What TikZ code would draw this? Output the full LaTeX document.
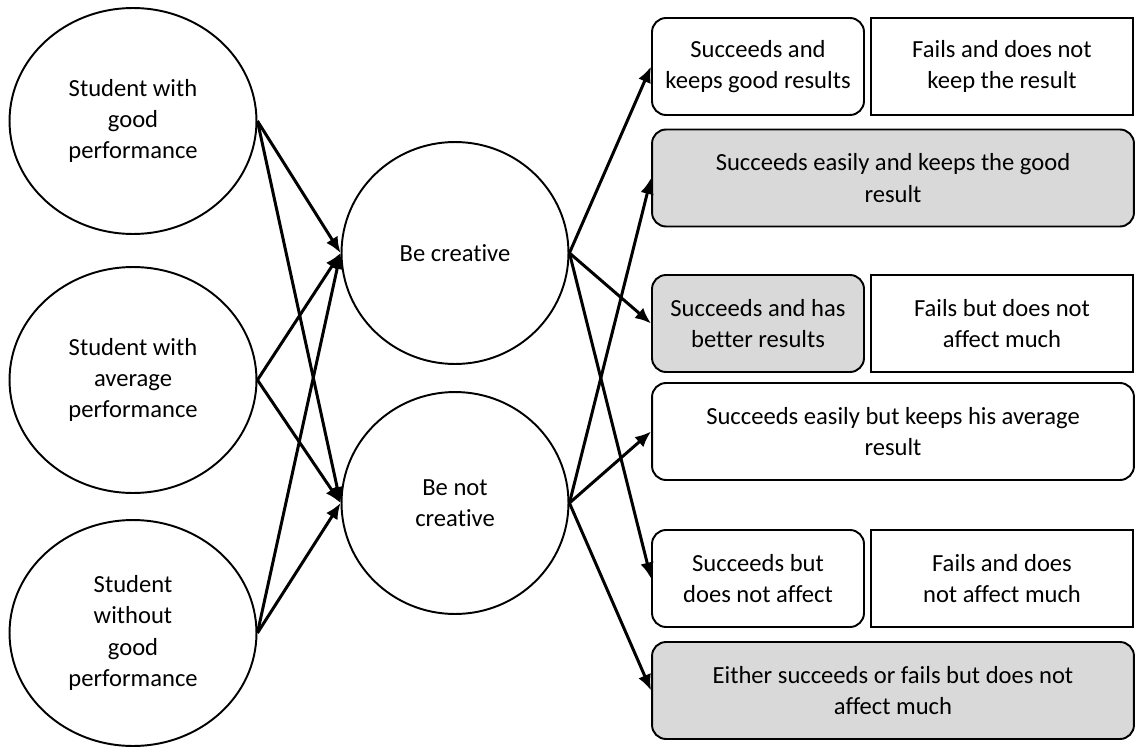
\documentclass[tikz,border=0pt]{standalone}
\usepackage{fontspec}
\setmainfont{Carlito}[Ligatures=NoCommon]
\usetikzlibrary{shapes.geometric,arrows.meta}
\definecolor{boxgray}{RGB}{217,217,217}

\begin{document}
\begin{tikzpicture}[x=0.02cm, y=-0.02cm,
        every node/.style = {font=\fontsize{14}{17.8}\selectfont, align=center},
        oval/.style = {draw, ellipse, line width=1.1pt, inner sep=0pt, minimum width=4.94cm, minimum height=4.52cm},
        mid/.style = {draw, ellipse, line width=1.1pt, inner sep=0pt, minimum width=4.54cm, minimum height=4.44cm},
        res/.style = {draw, rounded corners=0.28cm, line width=1.1pt, inner sep=2pt, minimum height=1.94cm},
        half/.style = {res, minimum width=4.24cm},
        full/.style = {res, minimum width=9.64cm},
        fail/.style = {draw, line width=1.1pt, inner sep=2pt, minimum height=1.94cm, minimum width=5.24cm},
        shade/.style = {fill=boxgray},
        arr/.style = {-{Latex[length=0.32cm, width=0.27cm]}, line width=1.7pt}]
        \useasboundingbox (0,0) rectangle (1136,747);

        \node [oval] (good) at (133, 121) {Student with\\good\\performance};
        \node [oval] (avg) at (133, 380) {Student with\\average\\performance};
        \node [oval] (weak) at (133, 633) {Student\\without\\good\\performance};

        \node [mid] (creat) at (455, 253) {Be creative};
        \node [mid] (notcreat) at (455, 503) {Be not\\creative};

        \node [half] (keep) at (758, 66.5) {Succeeds and\\keeps good results};
        \node [fail] (keepfail) at (1002, 66.5) {Fails and does not\\keep the result};
        \node [full, shade] (easygood) at (893, 178) {Succeeds easily and keeps the good\\result};
        \node [half, shade] (better) at (758, 323.5) {Succeeds and has\\better results};
        \node [fail] (betterfail) at (1002, 323.5) {Fails but does not\\affect much};
        \node [full] (easyavg) at (893, 431.5) {Succeeds easily but keeps his average\\result};
        \node [half] (noaffect) at (758, 578.5) {Succeeds but\\does not affect};
        \node [fail] (noaffectfail) at (1002, 578.5) {Fails and does\\not affect much};
        \node [full, shade] (either) at (893, 690.5) {Either succeeds or fails but does not\\affect much};

        \foreach \s in {good, avg, weak}
                 {
                   \draw [arr] (\s.east) -- (creat.west);
                   \draw [arr] (\s.east) -- (notcreat.west);
                 }
        \foreach \t in {keep, better, noaffect}
                 {
                   \draw [arr] (creat.east) -- (\t.west);
                 }
        \foreach \t in {easygood, easyavg, either}
                 {
                   \draw [arr] (notcreat.east) -- (\t.west);
                 }
\end{tikzpicture}
\end{document}
